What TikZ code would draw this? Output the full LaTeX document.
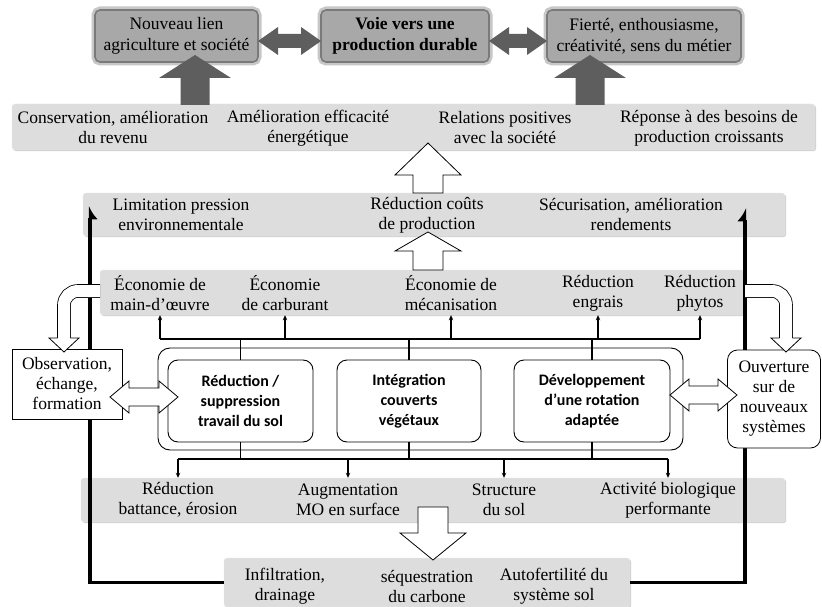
\documentclass[tikz,border=0pt]{standalone}
\usepackage{fontspec}
\setmainfont{Liberation Serif}
\newfontfamily\cbfont{Carlito}
\usetikzlibrary{arrows.meta,shadows}
\definecolor{bandgray}{HTML}{DDDDDD}
\definecolor{topfill}{HTML}{A8A8A8}
\definecolor{topedge}{HTML}{7A7A7A}
\definecolor{darkarrow}{HTML}{5E5E5E}
\tikzset{
  txt/.style={align=center, font=\fontsize{17.5}{20}\selectfont, inner sep=0pt},
  toptxt/.style={align=center, font=\fontsize{17.5}{21}\selectfont},
  band/.style={fill=bandgray, draw=black!8, rounded corners=3pt, inner sep=0pt,
     drop shadow={shadow xshift=1.2pt, shadow yshift=-1.2pt, fill=black!30, opacity=0.6}},
  topbox/.style={fill=topfill, draw=topedge, line width=1.6pt, rounded corners=5pt,
     preaction={draw=black!22, line width=7pt}, toptxt},
  corebox/.style={draw, line width=0.9pt, rounded corners=10pt, fill=white, align=center,
     font=\cbfont\bfseries\fontsize{16}{20}\selectfont, inner sep=0pt},
  sidebox/.style={draw, line width=0.8pt, fill=white, txt},
  hollow/.style={draw, fill=white, line width=0.8pt, line join=miter},
  darkfill/.style={fill=darkarrow},
  tree/.style={line width=1.3pt},
  treetip/.style={tree, -{Stealth[length=5pt,width=4.5pt]}},
  loopline/.style={line width=3.5pt},
  curvy/.style={double=white, double distance=12pt, line width=0.8pt, rounded corners=14pt},
}
\newcommand\hollowv[4]{\draw[hollow] ({#1-15},#2) -- ({#1-15},#3) -- ({#1-33},#3) -- (#1,#4) -- ({#1+33},#3) -- ({#1+15},#3) -- ({#1+15},#2) -- cycle;}
\newcommand\hollowh[3]{\draw[hollow] (#1,#3) -- ({#1+19},{#3-16}) -- ({#1+19},{#3-9}) -- ({#2-19},{#3-9}) -- ({#2-19},{#3-16}) -- (#2,#3) -- ({#2-19},{#3+16}) -- ({#2-19},{#3+9}) -- ({#1+19},{#3+9}) -- ({#1+19},{#3+16}) -- cycle;}
\newcommand\darkh[3]{\fill[darkfill] (#1,#3) -- ({#1+20},{#3-14}) -- ({#1+20},{#3-7}) -- ({#2-20},{#3-7}) -- ({#2-20},{#3-14}) -- (#2,#3) -- ({#2-20},{#3+14}) -- ({#2-20},{#3+7}) -- ({#1+20},{#3+7}) -- ({#1+20},{#3+14}) -- cycle;}
\newcommand\darkv[4]{\fill[darkfill] ({#1-14.5},#2) -- ({#1-14.5},#3) -- ({#1-36},#3) -- (#1,#4) -- ({#1+36},#3) -- ({#1+14.5},#3) -- ({#1+14.5},#2) -- cycle;}
\begin{document}
\begin{tikzpicture}[x=1pt,y=-1pt]
\useasboundingbox[fill=white] (0,0) rectangle (822,607);
% bands
\node[band, minimum width=803pt, minimum height=46pt] (band1) at (413.5,127) {};
\node[band, minimum width=702pt, minimum height=43pt] (band2) at (434,214.5) {};
\node[band, minimum width=645pt, minimum height=45pt] (band3) at (422.5,292.5) {};
\node[band, minimum width=704pt, minimum height=44pt] (band4) at (433,500) {};
\node[band, minimum width=406pt, minimum height=49pt] (bot) at (427,582.5) {};
% feedback loop
\draw[loopline, -{Latex[right, length=11pt, width=16pt]}] (bot.west) -| (90,206);
\draw[loopline, -{Latex[left, length=11pt, width=16pt]}] (bot.east) -| (745,208);
% top boxes
\node[topbox, minimum width=163pt, minimum height=52pt] (tb1) at (176.5,36) {Nouveau lien\\agriculture et société};
\node[topbox, minimum width=168pt, minimum height=52pt, font=\bfseries\fontsize{17.5}{21}\selectfont] (tb2) at (405,36) {Voie vers une\\production durable};
\node[topbox, minimum width=194pt, minimum height=52pt] (tb3) at (644,36) {Fierté, enthousiasme,\\créativité, sens du métier};
\darkh{258}{321}{41}
\darkh{489}{547}{41}
\darkv{195}{105}{78}{55}
\darkv{590}{105}{78}{55}
% hollow arrows
\hollowv{428}{193}{175}{143}
\hollowv{428}{270}{251}{232}
\hollowv{433}{507}{533}{560}
% band texts
\node[txt] (b1a) at (113,128) {Conservation, amélioration\\du revenu};
\node[txt] (b1b) at (308,128) {Amélioration efficacité\\énergétique};
\node[txt] (b1c) at (505,128) {Relations positives\\avec la société};
\node[txt] (b1d) at (709,128) {Réponse à des besoins de\\production croissants};
\node[txt] (b2a) at (181,215) {Limitation pression\\environnementale};
\node[txt] (b2b) at (427,215) {Réduction coûts\\de production};
\node[txt] (b2c) at (631,215) {Sécurisation, amélioration\\rendements};
\node[txt] (b3a) at (160,293) {Économie de\\main-d’œuvre};
\node[txt] (b3b) at (285,293) {Économie\\de carburant};
\node[txt] (b3c) at (451,293) {Économie de\\mécanisation};
\node[txt] (b3d) at (598,293) {Réduction\\engrais};
\node[txt] (b3e) at (700,293) {Réduction\\phytos};
\node[txt] (b4a) at (178,500) {Réduction\\battance, érosion};
\node[txt] (b4b) at (348,500) {Augmentation\\MO en surface};
\node[txt] (b4c) at (504,500) {Structure\\du sol};
\node[txt] (b4d) at (668,500) {Activité biologique\\performante};
\node[txt] (c1) at (285,586) {Infiltration,\\drainage};
\node[txt] (c2) at (427,586) {séquestration\\du carbone};
\node[txt] (c3) at (554,586) {Autofertilité du\\système sol};
% central block
\node[draw, line width=0.9pt, rounded corners=12pt, minimum width=525pt, minimum height=102pt] (outer) at (420.5,399) {};
\node[corebox, minimum width=145pt, minimum height=82pt] (cA) at (240.5,401) {Réduction /\\suppression\\travail du sol};
\node[corebox, minimum width=144pt, minimum height=82pt] (cB) at (409,401) {Intégration\\couverts\\végétaux};
\node[corebox, minimum width=156pt, minimum height=82pt] (cC) at (592,401) {Développement\\d’une rotation\\adaptée};
% trees
\coordinate (tu) at (0,339);
\coordinate (td) at (0,459);
\draw[tree] (b3a |- tu) -- (b3e |- tu);
\foreach \n in {b3a,b3b,b3c,b3d,b3e} \draw[treetip] (\n |- tu) -- (\n |- band3.south);
\foreach \n in {cA,cB,cC} \draw[tree] (\n.north) -- (\n.north |- tu);
\draw[tree] (b4a |- td) -- (b4d |- td);
\foreach \n in {cA,cB,cC} \draw[tree] (\n.south) -- (\n.south |- td);
\foreach \n in {b4a,b4b,b4c,b4d} \draw[treetip] (\n |- td) -- (\n |- band4.north);
% side boxes
\node[sidebox, minimum width=110pt, minimum height=70pt] (obs) at (67,384) {Observation,\\échange,\\formation};
\node[sidebox, rounded corners=10pt, minimum width=93pt, minimum height=98pt] (ouv) at (774,399) {Ouverture\\sur de\\nouveaux\\systèmes};
% curved hollow arrows
\draw[curvy] (100,291) -- (64,291) -- (64,339);
\fill[white] (49,338) -- (64,352) -- (79,338) -- cycle;
\draw[line width=0.8pt] (57.6,338) -- (49,338) -- (64,352) -- (79,338) -- (70.4,338);
\draw[curvy] (745,291) -- (786,291) -- (786,339);
\fill[white] (771,338) -- (786,352) -- (801,338) -- cycle;
\draw[line width=0.8pt] (779.6,338) -- (771,338) -- (786,352) -- (801,338) -- (792.4,338);
% double hollow arrows
\hollowh{110}{178}{397}
\hollowh{670}{737}{395}
\end{tikzpicture}
\end{document}
